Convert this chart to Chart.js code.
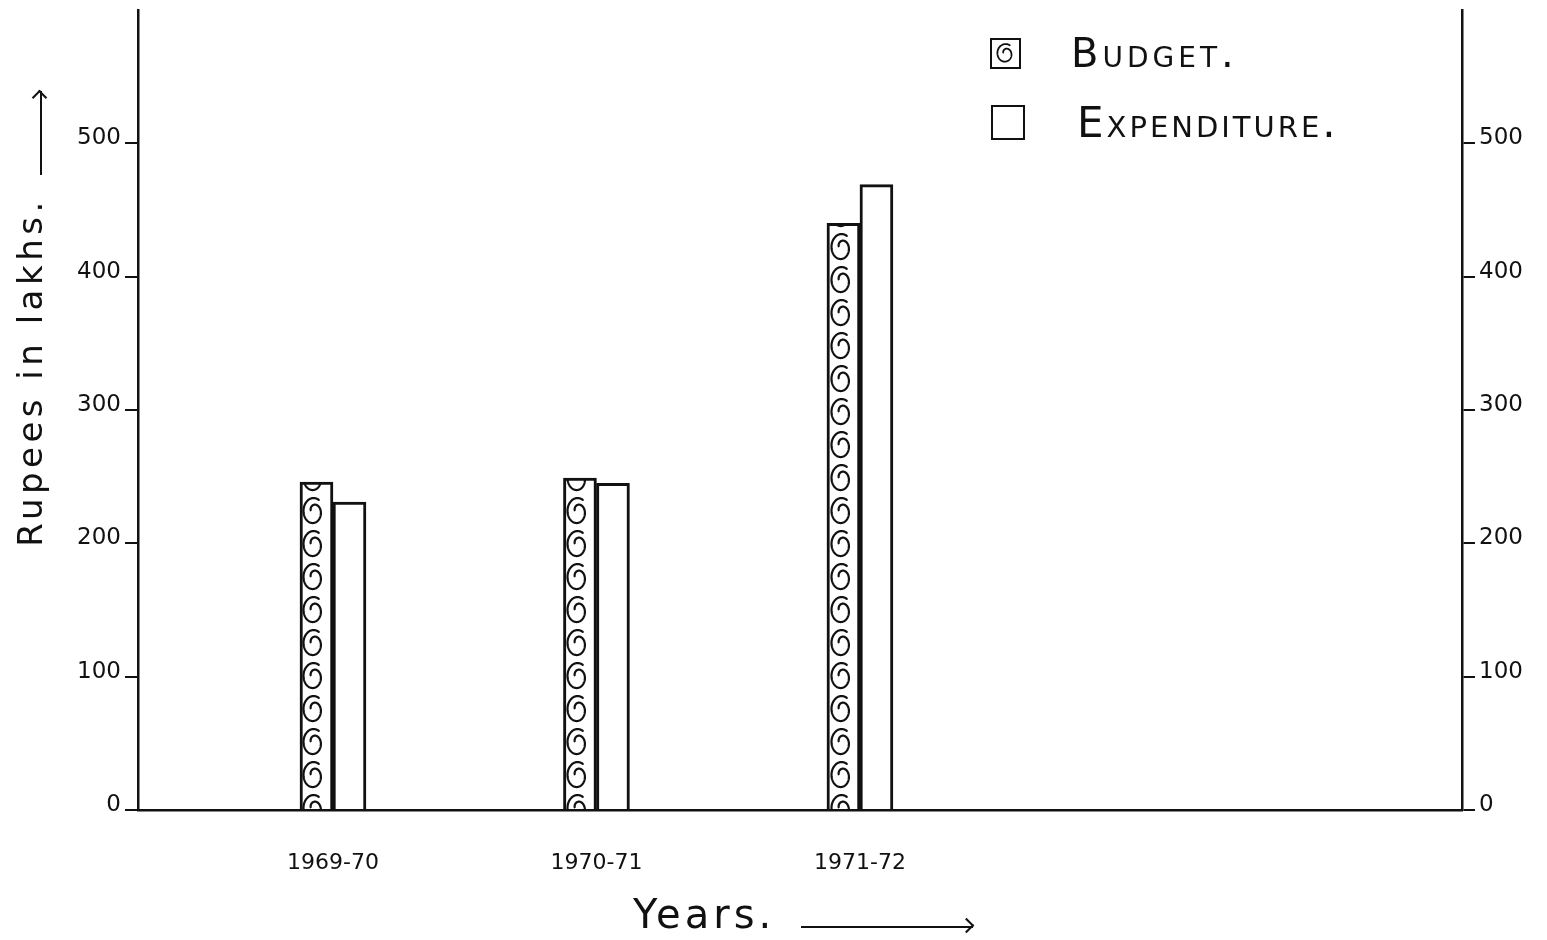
<!DOCTYPE html>
<html>
<head>
<meta charset="utf-8">
<script src="https://cdn.jsdelivr.net/npm/chart.js@4.4.0/dist/chart.umd.min.js"></script>
<style>
  body { margin: 0; background: #fff; }
  #wrap { position: relative; width: 1547px; height: 940px; font-family: "DejaVu Sans", sans-serif; color: #111; }
  #myChart { position: absolute; left: 0; top: 0; }
  .txt { position: absolute; white-space: nowrap; line-height: 1; }
  .swatch { position: absolute; border: 2px solid #111; background: #fff; box-sizing: border-box; }
  .arrow { display: inline-block; height: 2px; background: #111; position: relative; vertical-align: baseline; }
  .arrow::after { content: ""; position: absolute; right: 1px; top: -6px; width: 11px; height: 11px;
    border-top: 2px solid #111; border-right: 2px solid #111; transform: rotate(45deg); box-sizing: border-box; }
  #yTitle { left: -210px; top: 299px; width: 480px; height: 40px; line-height: 40px; text-align: center;
    font-size: 34px; letter-spacing: 4.5px; transform: rotate(-90deg); }
  #xTitle { left: 633px; top: 894px; font-size: 40px; letter-spacing: 4px; }
  .leg { font-variant: small-caps; }
</style>
</head>
<body>
<div id="wrap">
  <canvas id="myChart" width="1547" height="940"></canvas>

  <div class="swatch" style="left:990px; top:38px; width:31px; height:31px;"><canvas id="legSpiral" width="27" height="27"></canvas></div>
  <div class="txt leg" style="left:1071px; top:33px; font-size:40px; letter-spacing:4px;">Budget.</div>
  <div class="swatch" style="left:991px; top:105px; width:34px; height:35px;"></div>
  <div class="txt leg" style="left:1077px; top:102px; font-size:42px; letter-spacing:3px;">Expenditure.</div>

  <div id="yTitle" class="txt">Rupees in lakhs.<span class="arrow" style="width:84px; margin-left:22px;"></span></div>
  <div id="xTitle" class="txt">Years.<span class="arrow" style="width:172px; margin-left:26px;"></span></div>
</div>
<script>
var years = ["1969-70", "1970-71", "1971-72"];
var budget = [246, 249, 440];
var expenditure = [231, 245, 469];
var yTicks = [0, 100, 200, 300, 400, 500];

var myChart;

// "@"-like curl: one wide outer turn from the upper right, anticlockwise, then a small inner hook
function drawSpiral(g, cx, cy, rx, ry, lw) {
  g.strokeStyle = "#111";
  g.lineWidth = lw;
  g.lineCap = "round";
  g.beginPath();
  var a0 = Math.PI / 3;
  var a1 = 2.9 * Math.PI;
  for (var a = a0; a <= a1; a += 0.05) {
    var f = (a - a0) / (a1 - a0);
    var k = 1 - 0.72 * f * f;
    var x = cx + rx * k * Math.cos(a);
    var y = cy - ry * k * Math.sin(a);
    if (a === a0) g.moveTo(x, y);
    else g.lineTo(x, y);
  }
  g.stroke();
}

function spiralPattern() {
  var c = document.createElement("canvas");
  c.width = 33;
  c.height = 33;
  var g = c.getContext("2d");
  g.fillStyle = "#fff";
  g.fillRect(0, 0, 33, 33);
  drawSpiral(g, 16.5, 16.5, 10.5, 13.5, 2.2);
  return document.getElementById("myChart").getContext("2d").createPattern(c, "repeat");
}

drawSpiral(document.getElementById("legSpiral").getContext("2d"), 13.5, 13.5, 8.5, 9.5, 1.8);

function yAxis(pos, width) {
  return {
    position: pos,
    min: 0,
    max: 600,
    afterBuildTicks: function (s) {
      s.ticks = yTicks.map(function (v) { return { value: v }; });
    },
    ticks: {
      color: "#111",
      font: { family: "DejaVu Sans", size: 23 },
      padding: 4,
      labelOffset: -5,
    },
    grid: { drawOnChartArea: false, tickLength: 13, color: "#111", lineWidth: 2 },
    border: { color: "#111", width: 2.5 },
    afterFit: function (s) {
      s.width = width;
      s.paddingTop = 0;
      s.paddingBottom = 0;
    },
  };
}

function setupChart() {
  var spiral = spiralPattern();
  myChart = new Chart(document.getElementById("myChart"), {
    type: "bar",
    data: {
      datasets: [
        {
          label: "Budget",
          data: budget.map(function (v, i) { return { x: i + 1, y: v }; }),
          backgroundColor: spiral,
          borderColor: "#111",
          borderWidth: 3,
          barThickness: 33,
        },
        {
          label: "Expenditure",
          data: expenditure.map(function (v, i) { return { x: i + 1, y: v }; }),
          backgroundColor: "#fff",
          borderColor: "#111",
          borderWidth: 3,
          barThickness: 33,
        },
      ],
    },
    options: {
      responsive: false,
      animation: false,
      layout: { padding: { top: 10, left: 0, right: 0, bottom: 0 } },
      plugins: { legend: { display: false }, tooltip: { enabled: false } },
      scales: {
        x: {
          type: "linear",
          offset: false,
          min: 0.26,
          max: 5.285,
          afterBuildTicks: function (s) {
            s.ticks = years.map(function (_, i) { return { value: i + 1 }; });
          },
          ticks: {
            color: "#111",
            font: { family: "DejaVu Sans", size: 22 },
            padding: 40,
            callback: function (v) { return years[v - 1]; },
          },
          grid: { display: false, drawTicks: false },
          border: { color: "#111", width: 2.5 },
          afterFit: function (s) {
            s.height = 130;
            s.paddingLeft = 0;
            s.paddingRight = 0;
          },
        },
        y: yAxis("left", 138),
        y2: yAxis("right", 85),
      },
    },
  });
}

setupChart();
</script>
</body>
</html>
